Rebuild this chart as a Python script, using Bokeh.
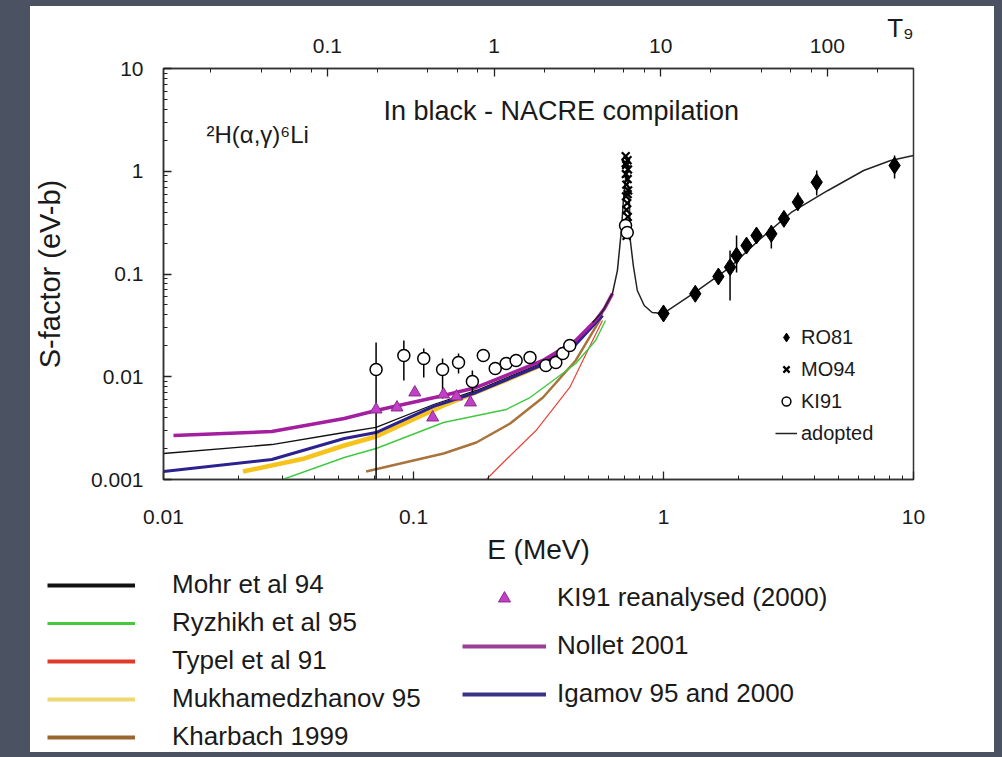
from bokeh.plotting import figure
from bokeh.models import (Range1d, LogScale, LogAxis, Legend, LegendItem, Label,
                          NumeralTickFormatter)
from bokeh.layouts import column
from bokeh.embed import file_html
from bokeh.resources import INLINE

FONT = "Liberation Sans"
NAN = float("nan")

# ---------------- data (E in MeV, S in eV-b) ----------------
mohr_E = [0.0100, 0.02711, 0.05285, 0.07085, 0.1204, 0.1784, 0.3294, 0.4456, 0.5702]
mohr_S = [0.00179, 0.00219, 0.002866, 0.00321, 0.00537, 0.00735, 0.01376, 0.02155, 0.0413]

ryzhikh_E = [0.02998, 0.05285, 0.07085, 0.1319, 0.2348, 0.2924, 0.3709, 0.4456, 0.5349, 0.5861]
ryzhikh_S = [0.001, 0.001637, 0.002003, 0.003587, 0.0048, 0.00628, 0.00962, 0.01346, 0.02253, 0.0353]

typel_E = [0.1955, 0.2285, 0.3090, 0.4217, 0.5204, 0.5702]
typel_S = [0.001, 0.001463, 0.002998, 0.00786, 0.02253, 0.0353]

mukh_E = [0.02079, 0.03666, 0.05285, 0.07085, 0.1319, 0.2084, 0.3385]
mukh_S = [0.001196, 0.001602, 0.002143, 0.002622, 0.00525, 0.00822, 0.01346]

kharbach_E = [0.06463, 0.1319, 0.1784, 0.2435, 0.3294, 0.4456, 0.5702]
kharbach_S = [0.001196, 0.00179, 0.002291, 0.003508, 0.00628, 0.0144, 0.0394]

nollet_E = [0.01096, 0.02711, 0.05285, 0.07085, 0.1319, 0.1784, 0.3294, 0.4456, 0.5349, 0.5808, 0.6249]
nollet_S = [0.00268, 0.00293, 0.00392, 0.00469, 0.00657, 0.00786, 0.0144, 0.02253, 0.0353, 0.0461, 0.0646]

igamov_E = [0.0100, 0.02711, 0.05285, 0.07085, 0.1204, 0.1784, 0.3294, 0.4456, 0.5702]
igamov_S = [0.001196, 0.001566, 0.002506, 0.002866, 0.00514, 0.00703, 0.01316, 0.0206, 0.0394]

adopted_E = [0.5204, 0.5702, 0.6249, 0.6540, 0.6661, 0.6784, 0.6910, 0.7102, 0.7300, 0.7367,
             0.7572, 0.7856, 0.8374, 0.9010, 1.0, 1.335, 1.839, 2.399, 3.243, 4.548, 6.32, 8.10, 10.0]
adopted_S = [0.0337, 0.0432, 0.0646, 0.108, 0.169, 0.265, 0.519, 1.0, 0.519, 0.212,
             0.121, 0.0691, 0.0494, 0.0422, 0.0413, 0.0661, 0.1156, 0.212, 0.397, 0.650, 1.017, 1.273, 1.423]

ro81_E = [1.0, 1.34, 1.658, 1.846, 1.96, 2.148, 2.355, 2.70, 3.032, 3.447, 4.10, 8.40]
ro81_S = [0.0413, 0.0642, 0.0945, 0.1165, 0.151, 0.189, 0.237, 0.246, 0.344, 0.50, 0.782, 1.137]
ro81_bar_E = [1.846, 1.96, 2.70, 3.447, 4.10, 8.40]
ro81_bar_lo = [0.0552, 0.1034, 0.177, 0.415, 0.581, 0.85]
ro81_bar_hi = [0.1694, 0.237, 0.298, 0.621, 1.017, 1.423]

mo94_E = [0.706, 0.718, 0.709, 0.721, 0.707, 0.719, 0.710, 0.722, 0.708, 0.716, 0.711, 0.720,
          0.709, 0.717, 0.712, 0.706, 0.719]
mo94_S = [1.40, 1.28, 1.15, 1.04, 0.94, 0.84, 0.74, 0.65, 0.57, 0.49, 0.42, 0.36,
          0.31, 0.27, 0.235, 1.20, 0.60]

ki91_E = [0.07085, 0.0915, 0.1099, 0.1307, 0.1514, 0.1720, 0.1902, 0.2123, 0.2348, 0.2573,
          0.2924, 0.3385, 0.3709, 0.3955, 0.4217, 0.705, 0.716]
ki91_S = [0.01177, 0.01609, 0.01505, 0.01177, 0.01376, 0.00899, 0.01609, 0.01204, 0.01346, 0.0144,
          0.01539, 0.01287, 0.01376, 0.01683, 0.02014, 0.296, 0.253]
ki91_bar_E = [0.07085, 0.0915, 0.1099, 0.1307, 0.1514, 0.1720]
ki91_bar_lo = [0.001, 0.00919, 0.00983, 0.00614, 0.01075, 0.00703]
ki91_bar_hi = [0.02155, 0.02253, 0.01884, 0.01505, 0.01683, 0.0115]

ki91r_E = [0.07085, 0.0859, 0.1012, 0.1193, 0.1319, 0.1486, 0.1689]
ki91r_S = [0.0048, 0.00502, 0.00703, 0.00401, 0.00672, 0.00642, 0.00562]

T9_COEF = 0.21  # Gamow peak E0 = 0.21 * T9^(2/3) MeV for 2H + alpha

# ---------------- main figure ----------------
p = figure(width=964, height=562, x_axis_type="log", y_axis_type="log",
           x_range=Range1d(0.01, 10), y_range=Range1d(0.001, 10),
           output_backend="svg", toolbar_location=None, title="T₉",
           min_border_left=128, min_border_right=81, min_border_top=62, min_border_bottom=89,
           background_fill_color="white", border_fill_color="white")
p.frame_align = False
p.grid.visible = False
p.outline_line_color = "#333333"
p.outline_line_width = 1.5
p.title.align = "right"
p.title.text_font = FONT
p.title.text_font_size = "26px"
p.title.text_font_style = "normal"
p.title.text_color = "#1a1a1a"
p.title.standoff = -14
p.title.offset = 0

p.extra_x_ranges = {"t9": Range1d((0.01 / T9_COEF) ** 1.5, (10 / T9_COEF) ** 1.5)}
p.extra_x_scales = {"t9": LogScale()}
top = LogAxis(x_range_name="t9")
p.add_layout(top, "above")

xb = p.below[0]
yl = p.left[0]
for ax in (xb, yl, top):
    ax.formatter = NumeralTickFormatter(format="0.[000]")
    ax.major_tick_in = 8
    ax.major_tick_out = 0
    ax.minor_tick_in = 4
    ax.minor_tick_out = 0
    ax.major_tick_line_color = "#222222"
    ax.minor_tick_line_color = "#222222"
    ax.major_tick_line_width = 1.3
    ax.axis_line_color = "#333333"
    ax.axis_line_width = 1.5
    ax.major_label_text_font = FONT
    ax.major_label_text_font_size = "21px"
    ax.major_label_text_color = "#1a1a1a"
    ax.axis_label_text_font = FONT
    ax.axis_label_text_font_style = "normal"
    ax.axis_label_text_color = "#1a1a1a"

xb.axis_label = "E (MeV)"
xb.axis_label_text_font_size = "28px"
xb.major_label_standoff = 30
xb.axis_label_standoff = 7
yl.axis_label = "S-factor (eV-b)"
yl.axis_label_text_font_size = "29px"
yl.major_label_standoff = 20
yl.axis_label_standoff = 22
top.major_label_standoff = 16

# ---------------- curves ----------------
r_kh = p.line(kharbach_E, kharbach_S, line_color="#a8743c", line_width=2.5)
r_ty = p.line(typel_E, typel_S, line_color="#e8443a", line_width=1.2)
r_ry = p.line(ryzhikh_E, ryzhikh_S, line_color="#3fc93f", line_width=1.4)
r_mu = p.line(mukh_E, mukh_S, line_color="#f6c21c", line_width=4.5)
r_mo = p.line(mohr_E, mohr_S, line_color="#111111", line_width=1.3)
r_ig = p.line(igamov_E, igamov_S, line_color="#2b2290", line_width=3)
r_no = p.line(nollet_E, nollet_S, line_color="#a31fa0", line_width=3.5)
r_ad = p.line(adopted_E, adopted_S, line_color="#222222", line_width=1.5)

# ---------------- data points ----------------
p.segment(x0=ro81_bar_E, y0=ro81_bar_lo, x1=ro81_bar_E, y1=ro81_bar_hi, line_color="black", line_width=1.5)
p.segment(x0=ki91_bar_E, y0=ki91_bar_lo, x1=ki91_bar_E, y1=ki91_bar_hi, line_color="black", line_width=1.5)
r_mo94 = p.scatter(mo94_E, mo94_S, marker="x", size=11, line_color="black", line_width=2.2)
r_ki = p.scatter(ki91_E, ki91_S, marker="circle", size=12, fill_color="white",
                 line_color="black", line_width=1.5)
r_ro = p.scatter(ro81_E, ro81_S, marker="diamond", size=17, fill_color="black", line_color="black")
r_tr = p.scatter(ki91r_E, ki91r_S, marker="triangle", size=12, fill_color="#c23fc8",
                 line_color="#8c2a8c", line_width=1)


def style_legend(lg, fsize):
    lg.padding = 0
    lg.margin = 0
    lg.label_text_font = FONT
    lg.label_text_font_size = fsize
    lg.label_text_color = "#1a1a1a"
    lg.background_fill_alpha = 0
    lg.border_line_alpha = 0
    return lg


leg_in = Legend(items=[LegendItem(label="RO81", renderers=[r_ro]),
                       LegendItem(label="MO94", renderers=[r_mo94]),
                       LegendItem(label="KI91", renderers=[r_ki]),
                       LegendItem(label="adopted", renderers=[r_ad])],
                location=(612, 34), glyph_width=22, glyph_height=24, label_height=24,
                spacing=8, label_standoff=4)
p.add_layout(style_legend(leg_in, "20px"))

p.add_layout(Label(x=220, y=369, x_units="screen", y_units="screen",
                   text="In black - NACRE compilation", text_font=FONT,
                   text_font_size="27px", text_baseline="middle", text_color="#1a1a1a"))
p.add_layout(Label(x=43, y=345, x_units="screen", y_units="screen",
                   text="²H(α,γ)⁶Li", text_font=FONT,
                   text_font_size="24px", text_baseline="middle", text_color="#1a1a1a"))

# ---------------- legend panel below ----------------
p2 = figure(width=964, height=184, x_axis_type=None, y_axis_type=None,
            x_range=Range1d(0, 1), y_range=Range1d(0, 1),
            output_backend="svg", toolbar_location=None, title=None, min_border=0,
            background_fill_color="white", border_fill_color="white", outline_line_color=None)
p2.frame_align = False
p2.grid.visible = False
e = [NAN]
lg_mo = p2.line(e, e, line_color="#111111", line_width=4)
lg_ry = p2.line(e, e, line_color="#45c83c", line_width=3)
lg_ty = p2.line(e, e, line_color="#e03a2a", line_width=4)
lg_mu = p2.line(e, e, line_color="#f0d870", line_width=4)
lg_kh = p2.line(e, e, line_color="#9a6630", line_width=4)
lg_tr = p2.scatter(e, e, marker="triangle", fill_color="#c23fc8", line_color="#8c2a8c", line_width=1)
lg_no = p2.line(e, e, line_color="#9a3e98", line_width=4)
lg_ig = p2.line(e, e, line_color="#3a3488", line_width=4)

leg_l = Legend(items=[LegendItem(label="Mohr et al 94", renderers=[lg_mo]),
                      LegendItem(label="Ryzhikh et al 95", renderers=[lg_ry]),
                      LegendItem(label="Typel et al 91", renderers=[lg_ty]),
                      LegendItem(label="Mukhamedzhanov 95", renderers=[lg_mu]),
                      LegendItem(label="Kharbach 1999", renderers=[lg_kh])],
               location=(17, 0), glyph_width=88, glyph_height=30, label_height=30,
               spacing=7, label_standoff=37)
p2.add_layout(style_legend(leg_l, "26px"))

leg_r = Legend(items=[LegendItem(label="KI91 reanalysed (2000)", renderers=[lg_tr]),
                      LegendItem(label="Nollet 2001", renderers=[lg_no]),
                      LegendItem(label="Igamov 95 and 2000", renderers=[lg_ig])],
               location=(432, 43), glyph_width=84, glyph_height=30, label_height=30,
               spacing=17, label_standoff=11)
p2.add_layout(style_legend(leg_r, "26px"))

paper = column(p, p2, width=964, height=746, spacing=0, margin=(6, 8, 5, 30),
               styles={"background-color": "white"})
root = column(paper, width=1002, height=757, spacing=0,
              styles={"background-color": "#4b5262"})

open("out.html", "w").write(file_html(root, INLINE))
